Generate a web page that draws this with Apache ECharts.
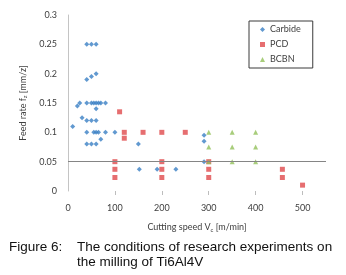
<!DOCTYPE html>
<html>
<head>
<meta charset="utf-8">
<script src="https://cdn.jsdelivr.net/npm/echarts@6/dist/echarts.min.js"></script>
<style>
  html, body { margin: 0; padding: 0; background: #fff; }
  #chart { width: 346px; height: 275px; }
</style>
</head>
<body>
<div id="chart"></div>
<script>
// cutting speed [m/min], feed rate [mm/z]
var carbide = [
  [40, 0.25], [50, 0.25], [60, 0.25],
  [40, 0.19], [50, 0.195], [60, 0.2],
  [20, 0.145], [25, 0.15], [40, 0.15], [50, 0.15], [55, 0.15], [60, 0.15], [65, 0.15], [70, 0.15], [80, 0.15],
  [60, 0.14], [30, 0.125], [40, 0.12], [50, 0.12], [60, 0.12], [10, 0.11],
  [40, 0.1], [55, 0.1], [60, 0.1], [65, 0.1], [80, 0.1], [100, 0.1],
  [70, 0.088], [40, 0.08], [50, 0.08], [60, 0.08], [150, 0.08],
  [152, 0.037], [190, 0.037], [230, 0.037],
  [290, 0.095], [290, 0.085], [290, 0.05]
]
var pcd = [
  [110, 0.135],
  [100, 0.05], [100, 0.037], [100, 0.023],
  [120, 0.1], [120, 0.09], [160, 0.1],
  [200, 0.1], [200, 0.05], [200, 0.037], [200, 0.023],
  [250, 0.1],
  [300, 0.05], [300, 0.037], [300, 0.023],
  [457, 0.037], [457, 0.023], [500, 0.01]
]
var bcbn = [
  [300, 0.1], [300, 0.075], [300, 0.05],
  [350, 0.1], [350, 0.075], [350, 0.05],
  [400, 0.1], [400, 0.075], [400, 0.05]
]
var xTicks = [0, 100, 200, 300, 400, 500]
var crossAt = 0.05

var chart = echarts.init(document.getElementById('chart'))
var labelFont = 'Lato'
chart.setOption({
  animation: false,
  grid: {
    left: 68,
    right: 20,
    top: 15,
    bottom: 84
  },
  legend: {
    orient: 'vertical',
    left: 249,
    top: 21,
    padding: [4, 12, 4, 11],
    itemGap: 6,
    itemWidth: 5,
    itemHeight: 5,
    borderColor: '#3a3a3a',
    borderWidth: 1,
    textStyle: { fontFamily: labelFont, fontSize: 9, color: '#404040', lineHeight: 9 },
    data: ['Carbide', 'PCD', 'BCBN']
  },
  xAxis: {
    type: 'value',
    min: 0,
    max: 550,
    interval: 100,
    name: '{a|Cutting speed V}{s|c}{a| [m/min]}',
    nameLocation: 'middle',
    nameGap: 31,
    nameTextStyle: {
      rich: {
        a: { fontFamily: labelFont, fontSize: 9, color: '#404040' },
        s: { fontFamily: labelFont, fontSize: 6, color: '#404040', padding: [5, 0, 0, 0] }
      }
    },
    axisLine: { show: false },
    axisTick: {
      show: true,
      length: 4,
      customValues: xTicks.slice(1),
      lineStyle: { color: '#bdbdbd', width: 1 }
    },
    axisLabel: {
      customValues: xTicks,
      margin: 13,
      fontFamily: labelFont,
      fontSize: 9,
      color: '#404040'
    },
    splitLine: { show: false }
  },
  yAxis: {
    type: 'value',
    min: 0,
    max: 0.3,
    interval: 0.05,
    name: '{a|Feed rate f}{s|z}{a| [mm/z]}',
    nameLocation: 'middle',
    nameGap: 34,
    nameTextStyle: {
      rich: {
        a: { fontFamily: labelFont, fontSize: 9, color: '#404040' },
        s: { fontFamily: labelFont, fontSize: 6, color: '#404040', padding: [5, 0, 0, 0] }
      }
    },
    axisLine: { show: true, lineStyle: { color: '#c4c4c4', width: 1 } },
    axisTick: { show: false },
    axisLabel: {
      margin: 11,
      fontFamily: labelFont,
      fontSize: 9,
      color: '#404040'
    },
    splitLine: { show: false }
  },
  series: [
    {
      name: 'Carbide',
      type: 'scatter',
      symbol: 'diamond',
      symbolSize: 5,
      itemStyle: { color: '#3a80c4' },
      data: carbide,
      z: 3,
      markLine: {
        silent: true,
        symbol: 'none',
        label: { show: false },
        lineStyle: { color: '#858585', width: 1, type: 'solid' },
        data: [{ yAxis: crossAt }]
      }
    },
    {
      name: 'PCD',
      type: 'scatter',
      symbol: 'rect',
      symbolSize: 5,
      itemStyle: { color: '#e04a4c' },
      data: pcd
    },
    {
      name: 'BCBN',
      type: 'scatter',
      symbol: 'triangle',
      symbolSize: 5,
      itemStyle: { color: '#92c15a' },
      data: bcbn,
      z: 4
    }
  ],
  graphic: [
    {
      type: 'text',
      left: 9,
      top: 240,
      style: { text: 'Figure 6:', font: '13.5px "Liberation Sans"', fill: '#111' }
    },
    {
      type: 'text',
      left: 77,
      top: 240,
      style: {
        text: 'The conditions of research experiments on\nthe milling of Ti6Al4V',
        font: '13.5px "Liberation Sans"',
        lineHeight: 15,
        fill: '#111'
      }
    }
  ]
})
</script>
</body>
</html>
